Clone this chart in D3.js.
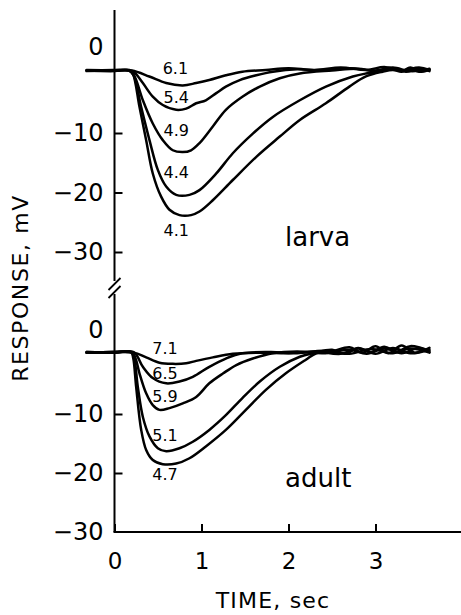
<!DOCTYPE html>
<html>
<head>
<meta charset="utf-8">
<script src="https://cdn.jsdelivr.net/npm/d3@7"></script>
<style>
  html, body { margin: 0; padding: 0; background: #fff; }
  svg { display: block; }
  text { font-family: "DejaVu Sans", sans-serif; fill: #000; }
</style>
</head>
<body>
<svg id="chart" width="461" height="615"></svg>
<script>
// ---------------- DATA ----------------
// time (sec), response (mV); larva panel
const larva41 = [[-0.32,0.5],[0.0,0.6],[0.17,0.5],[0.21,0.0],[0.287,-5.6],[0.364,-11.2],[0.44,-16.8],[0.536,-20.7],[0.632,-22.9],[0.747,-23.8],[0.88,-23.8],[0.977,-23.2],[1.13,-21.3],[1.36,-17.9],[1.63,-14.0],[1.90,-10.6],[2.13,-7.8],[2.43,-5.0],[2.70,-2.2],[2.89,-0.5],[3.08,0.3],[3.2,0.6],[3.3,0.3],[3.4,0.8],[3.5,0.3],[3.62,0.6]];
const larva44 = [[-0.32,0.4],[0.0,0.5],[0.17,0.5],[0.22,-0.3],[0.306,-5.6],[0.402,-11.2],[0.498,-16.2],[0.594,-19.0],[0.709,-20.4],[0.862,-20.4],[0.977,-19.6],[1.17,-16.8],[1.36,-13.4],[1.59,-10.1],[1.82,-7.3],[2.13,-4.5],[2.43,-2.2],[2.74,-0.5],[2.89,0.0],[3.08,0.4],[3.2,0.9],[3.3,0.4],[3.4,1.0],[3.5,0.5],[3.62,0.8]];
const larva49 = [[-0.32,0.6],[0.0,0.5],[0.17,0.5],[0.23,-0.5],[0.326,-4.5],[0.44,-8.4],[0.555,-11.2],[0.67,-12.9],[0.785,-13.2],[0.88,-12.9],[0.977,-11.7],[1.13,-8.9],[1.28,-6.1],[1.47,-3.9],[1.67,-2.2],[1.90,-0.8],[2.13,0.0],[2.5,0.5],[2.8,0.8],[3.0,0.4],[3.2,0.9],[3.35,0.3],[3.5,0.8],[3.62,0.4]];
const larva54 = [[-0.32,0.5],[0.0,0.4],[0.17,0.6],[0.24,0.0],[0.326,-1.6],[0.44,-3.9],[0.555,-5.3],[0.709,-6.1],[0.824,-5.9],[0.939,-5.0],[1.05,-4.5],[1.17,-3.3],[1.28,-2.2],[1.44,-1.1],[1.63,-0.3],[1.82,0.3],[2.1,0.7],[2.4,0.5],[2.7,0.9],[3.0,0.5],[3.2,1.0],[3.4,0.4],[3.62,0.7]];
const larva61 = [[-0.32,0.5],[0.0,0.5],[0.2,0.5],[0.40,-0.5],[0.594,-1.6],[0.785,-2.0],[0.939,-1.6],[1.09,-1.1],[1.28,-0.3],[1.47,0.3],[1.74,0.6],[2.0,0.9],[2.3,0.6],[2.6,1.0],[2.9,0.6],[3.1,1.1],[3.3,0.5],[3.5,1.0],[3.62,0.6]];
// adult panel
const adult47 = [[-0.32,0.4],[0.0,0.5],[0.19,0.5],[0.215,-0.5],[0.249,-5.4],[0.307,-12.7],[0.364,-16.1],[0.44,-17.8],[0.555,-18.5],[0.709,-18.4],[0.862,-17.5],[1.05,-15.5],[1.28,-12.7],[1.51,-9.3],[1.74,-5.9],[1.97,-3.1],[2.20,-0.8],[2.32,0.3],[2.5,0.6],[2.7,1.3],[2.85,0.4],[3.0,1.5],[3.15,0.3],[3.3,1.6],[3.45,0.4],[3.62,1.2]];
const adult51 = [[-0.32,0.5],[0.0,0.4],[0.19,0.5],[0.225,-0.5],[0.268,-5.4],[0.326,-10.5],[0.402,-13.8],[0.498,-15.8],[0.594,-16.3],[0.747,-15.8],[0.90,-14.7],[1.09,-12.7],[1.28,-10.2],[1.47,-7.3],[1.67,-4.5],[1.90,-2.0],[2.13,-0.3],[2.28,0.3],[2.5,0.9],[2.65,0.2],[2.8,1.2],[2.95,0.5],[3.1,1.4],[3.25,0.6],[3.4,1.5],[3.62,0.7]];
const adult59 = [[-0.32,0.4],[0.0,0.5],[0.2,0.4],[0.24,-0.5],[0.287,-3.1],[0.364,-6.5],[0.44,-8.5],[0.517,-9.3],[0.632,-9.0],[0.785,-8.2],[0.939,-7.1],[1.09,-4.8],[1.25,-3.1],[1.40,-1.7],[1.59,-0.6],[1.82,0.3],[2.1,0.6],[2.4,0.3],[2.7,0.9],[2.9,0.2],[3.1,1.1],[3.3,0.3],[3.5,1.2],[3.62,0.5]];
const adult65 = [[-0.32,0.5],[0.0,0.4],[0.22,0.5],[0.326,-2.0],[0.44,-3.9],[0.594,-4.8],[0.747,-4.5],[0.90,-3.7],[1.09,-2.0],[1.28,-0.6],[1.47,0.3],[1.8,0.5],[2.1,0.3],[2.4,0.7],[2.7,0.2],[2.95,1.0],[3.2,0.3],[3.4,1.1],[3.62,0.4]];
const adult71 = [[-0.32,0.4],[0.0,0.5],[0.22,0.4],[0.364,-0.4],[0.517,-1.3],[0.67,-1.5],[0.824,-1.4],[0.939,-1.0],[1.13,-0.4],[1.36,0.2],[1.7,0.4],[2.0,0.3],[2.3,0.6],[2.6,0.2],[2.8,1.1],[3.0,0.2],[3.2,1.2],[3.4,0.3],[3.62,0.9]];

const larvaSeries = [larva41, larva44, larva49, larva54, larva61];
const adultSeries = [adult47, adult51, adult59, adult65, adult71];

const larvaLabels = ["4.1", "4.4", "4.9", "5.4", "6.1"];
const adultLabels = ["4.7", "5.1", "5.9", "6.5", "7.1"];
// label anchor points (time, mV)
const larvaLabelAt = [[0.71,-26.3],[0.71,-16.7],[0.71,-9.5],[0.71,-4.1],[0.70,0.9]];
const adultLabelAt = [[0.58,-20.3],[0.58,-13.6],[0.58,-7.1],[0.58,-3.05],[0.58,1.2]];

const xTicks = [0, 1, 2, 3];
const yTicks = [-10, -20, -30];

// ---------------- DRAW ----------------
const svg = d3.select("#chart");

const x = d3.scaleLinear().domain([0, 4]).range([114.5, 462.5]);
const yTop = d3.scaleLinear().domain([0, -30]).range([73.5, 252]);
const yBot = d3.scaleLinear().domain([0, -30]).range([355, 532]);

const fmt = d => (d < 0 ? "\u2212" : "") + Math.abs(d);

// vertical axis line with break
const ax = x(0);
svg.append("line").attr("x1", ax).attr("x2", ax).attr("y1", 10).attr("y2", 281)
  .attr("stroke", "#000").attr("stroke-width", 2);
svg.append("line").attr("x1", ax).attr("x2", ax).attr("y1", 294).attr("y2", yBot(-30))
  .attr("stroke", "#000").attr("stroke-width", 2);
[[0, 0], [0, 8]].forEach(([dx, dy]) => {
  svg.append("line")
    .attr("x1", ax - 6 + dx).attr("y1", 290 + dy)
    .attr("x2", ax + 6 + dx).attr("y2", 278 + dy)
    .attr("stroke", "#000").attr("stroke-width", 1.8);
});

// horizontal axis line
svg.append("line").attr("x1", ax - 1).attr("x2", x(4)).attr("y1", yBot(-30)).attr("y2", yBot(-30))
  .attr("stroke", "#000").attr("stroke-width", 2);

function styleAxis(g, fs) {
  g.select(".domain").remove();
  g.selectAll(".tick line").attr("stroke", "#000").attr("stroke-width", 2);
  g.selectAll(".tick text").attr("font-size", fs).attr("font-family", "DejaVu Sans, sans-serif").attr("fill", "#000");
}

// y axes
const yAxisTop = d3.axisLeft(yTop).tickValues(yTicks).tickSize(-8).tickPadding(11).tickFormat(fmt);
svg.append("g").attr("transform", `translate(${ax},0)`).call(yAxisTop).call(g => styleAxis(g, 24));
const yAxisBot = d3.axisLeft(yBot).tickValues(yTicks.slice(0, 2)).tickSize(-8).tickPadding(11).tickFormat(fmt);
svg.append("g").attr("transform", `translate(${ax},0)`).call(yAxisBot).call(g => styleAxis(g, 24));
// bottom -30 label (no tick, sits at axis corner)
svg.append("text").attr("x", ax - 11).attr("y", yBot(-30)).attr("dy", "0.32em")
  .attr("text-anchor", "end").attr("font-size", 24).text(fmt(-30));

// "0" labels (placed above the zero level, no tick)
svg.append("text").attr("x", ax - 11).attr("y", yTop(4.45)).attr("dy", "0.35em")
  .attr("text-anchor", "end").attr("font-size", 24).text("0");
svg.append("text").attr("x", ax - 11).attr("y", yBot(4.24)).attr("dy", "0.35em")
  .attr("text-anchor", "end").attr("font-size", 24).text("0");

// x axis
const xAxis = d3.axisBottom(x).tickValues(xTicks).tickSize(-8).tickPadding(21).tickFormat(d3.format("d"));
svg.append("g").attr("transform", `translate(0,${yBot(-30)})`).call(xAxis).call(g => styleAxis(g, 23));

// axis titles
svg.append("text").attr("x", 273).attr("y", 608).attr("text-anchor", "middle")
  .attr("font-size", 22).attr("letter-spacing", 1.2).text("TIME, sec");
svg.append("text").attr("transform", "translate(28,288) rotate(-90)").attr("text-anchor", "middle")
  .attr("font-size", 22).attr("letter-spacing", 1.6).text("RESPONSE, mV");

// curves
const lineTop = d3.line().x(d => x(d[0])).y(d => yTop(d[1])).curve(d3.curveCatmullRom.alpha(0.5));
const lineBot = d3.line().x(d => x(d[0])).y(d => yBot(d[1])).curve(d3.curveCatmullRom.alpha(0.5));

svg.append("g").selectAll("path").data(larvaSeries).join("path")
  .attr("d", lineTop).attr("fill", "none").attr("stroke", "#000").attr("stroke-width", 2.5)
  .attr("stroke-linejoin", "round").attr("stroke-linecap", "round");
svg.append("g").selectAll("path").data(adultSeries).join("path")
  .attr("d", lineBot).attr("fill", "none").attr("stroke", "#000").attr("stroke-width", 2.5)
  .attr("stroke-linejoin", "round").attr("stroke-linecap", "round");

// curve labels
svg.append("g").selectAll("text").data(larvaLabels).join("text")
  .attr("x", (d, i) => x(larvaLabelAt[i][0])).attr("y", (d, i) => yTop(larvaLabelAt[i][1]))
  .attr("dy", "0.35em").attr("text-anchor", "middle").attr("font-size", 16).text(d => d);
svg.append("g").selectAll("text").data(adultLabels).join("text")
  .attr("x", (d, i) => x(adultLabelAt[i][0])).attr("y", (d, i) => yBot(adultLabelAt[i][1]))
  .attr("dy", "0.35em").attr("text-anchor", "middle").attr("font-size", 16).text(d => d);

// panel labels
svg.append("text").attr("x", x(1.96)).attr("y", yTop(-29.0)).attr("font-size", 26).text("larva");
svg.append("text").attr("x", x(1.96)).attr("y", yBot(-22.4)).attr("font-size", 26).text("adult");
</script>
</body>
</html>
